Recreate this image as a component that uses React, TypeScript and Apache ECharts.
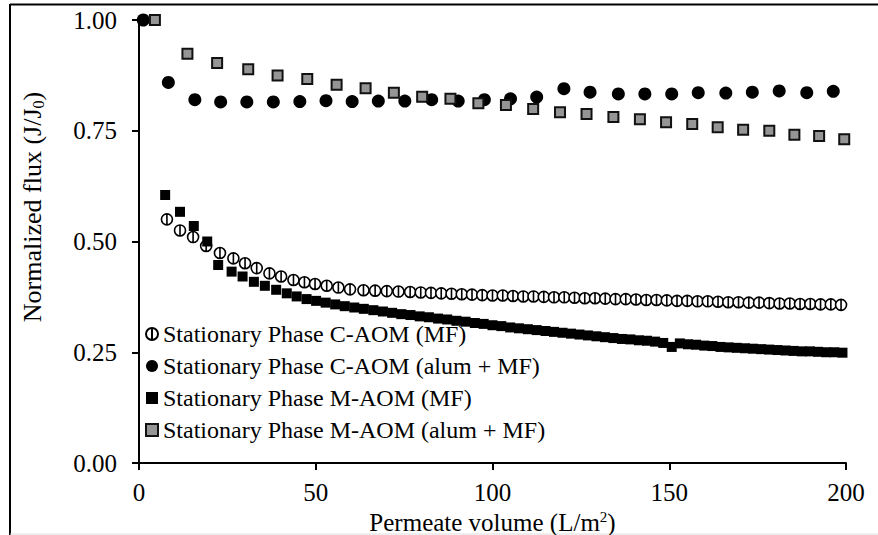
import React, { useEffect, useRef } from "react";
import * as echarts from "echarts";

// Stationary Phase C-AOM (MF) — open circles [permeate volume, J/J0]
const cAomMf: number[][] = [
  [7.9, 0.55], [11.6, 0.525], [15.3, 0.51], [19.0, 0.49], [22.9, 0.474], [26.7, 0.462],
  [30.0, 0.451], [33.3, 0.44], [36.9, 0.428], [40.2, 0.421], [43.7, 0.413], [46.8, 0.408],
  [49.8, 0.404], [53.1, 0.4], [56.4, 0.396], [59.7, 0.392], [63.5, 0.39], [66.8, 0.389],
  [70.1, 0.388], [73.4, 0.387], [76.7, 0.386], [79.7, 0.385], [82.6, 0.384], [85.5, 0.383],
  [88.4, 0.382], [91.3, 0.381], [94.2, 0.38], [97.1, 0.379], [100.0, 0.378], [102.9, 0.378],
  [105.8, 0.377], [108.7, 0.376], [111.6, 0.376], [114.5, 0.375], [117.4, 0.374], [120.3, 0.374],
  [123.2, 0.373], [126.1, 0.372], [129.0, 0.372], [131.9, 0.371], [134.8, 0.37], [137.7, 0.37],
  [140.6, 0.369], [143.5, 0.368], [146.4, 0.368], [149.3, 0.367], [152.2, 0.366], [155.1, 0.366],
  [158.0, 0.365], [160.9, 0.365], [163.8, 0.364], [166.7, 0.363], [169.6, 0.363], [172.5, 0.362],
  [175.4, 0.362], [178.3, 0.361], [181.2, 0.36], [184.1, 0.36], [187.0, 0.359], [189.9, 0.359],
  [192.8, 0.358], [195.7, 0.358], [198.6, 0.357],
];

// Stationary Phase C-AOM (alum + MF) — filled circles
const cAomAlum: number[][] = [
  [1.2, 1.0], [8.3, 0.859], [15.8, 0.82], [23.1, 0.815], [30.5, 0.815], [38.0, 0.815],
  [45.5, 0.816], [52.9, 0.818], [60.3, 0.816], [67.7, 0.817], [75.2, 0.817], [82.8, 0.82],
  [90.3, 0.817], [97.7, 0.82], [105.1, 0.822], [112.5, 0.826], [120.2, 0.845], [127.6, 0.837],
  [135.6, 0.833], [143.1, 0.833], [150.7, 0.833], [158.2, 0.836], [166.0, 0.835], [173.5, 0.837],
  [181.1, 0.84], [188.9, 0.836], [196.4, 0.839],
];

// Stationary Phase M-AOM (MF) — filled squares
const mAomMf: number[][] = [
  [7.4, 0.605], [11.6, 0.567], [15.5, 0.535], [19.3, 0.5], [22.4, 0.447], [26.2, 0.432],
  [29.3, 0.421], [32.5, 0.409], [35.6, 0.4], [38.8, 0.391], [41.8, 0.383], [44.6, 0.376],
  [47.4, 0.37], [50.1, 0.366], [52.8, 0.362], [55.5, 0.358], [58.2, 0.354], [60.9, 0.351],
  [63.6, 0.348], [66.3, 0.345], [69.0, 0.342], [71.6, 0.339], [74.2, 0.336], [76.8, 0.334],
  [79.4, 0.331], [82.0, 0.329], [84.6, 0.326], [87.2, 0.324], [89.8, 0.321], [92.4, 0.319],
  [95.0, 0.316], [97.5, 0.314], [100.0, 0.311], [102.5, 0.309], [105.0, 0.306], [107.5, 0.304],
  [110.0, 0.302], [112.5, 0.3], [115.0, 0.298], [117.4, 0.296], [119.8, 0.294], [122.2, 0.292],
  [124.6, 0.29], [127.0, 0.288], [129.4, 0.286], [131.8, 0.284], [134.2, 0.282], [136.6, 0.28],
  [139.0, 0.279], [141.4, 0.277], [143.7, 0.276], [146.0, 0.274], [148.3, 0.271], [150.7, 0.262],
  [153.0, 0.27], [155.3, 0.268], [157.6, 0.267], [159.9, 0.265], [162.2, 0.264], [164.5, 0.262],
  [166.8, 0.261], [169.1, 0.26], [171.4, 0.259], [173.7, 0.258], [176.0, 0.257], [178.3, 0.256],
  [180.6, 0.255], [182.9, 0.254], [185.2, 0.253], [187.5, 0.252], [189.8, 0.252], [192.1, 0.251],
  [194.4, 0.25], [196.7, 0.25], [199.0, 0.249],
];

// Stationary Phase M-AOM (alum + MF) — grey patterned squares
const mAomAlum: number[][] = [
  [4.5, 1.0], [13.7, 0.924], [22.1, 0.903], [30.9, 0.889], [39.2, 0.875], [47.6, 0.867],
  [55.9, 0.854], [64.1, 0.846], [72.1, 0.836], [80.1, 0.827], [88.1, 0.822], [96.0, 0.812],
  [103.8, 0.808], [111.5, 0.799], [119.1, 0.792], [126.6, 0.788], [134.2, 0.781], [141.7, 0.776],
  [149.1, 0.769], [156.5, 0.765], [163.7, 0.758], [170.9, 0.752], [178.3, 0.75], [185.4, 0.741],
  [192.4, 0.738], [199.5, 0.731],
];

const seriesNames = [
  "Stationary Phase C-AOM (MF)",
  "Stationary Phase C-AOM (alum + MF)",
  "Stationary Phase M-AOM (MF)",
  "Stationary Phase M-AOM (alum + MF)",
];

const FONT = "'Liberation Serif', 'Times New Roman', serif";

export default function App() {
  const ref = useRef<HTMLDivElement>(null);
  useEffect(() => {
    document.body.style.margin = "0";
    const chart = echarts.init(ref.current!, undefined, { renderer: "svg" });
    const openCircle = "path://M6,0A6,6 0 1,1 6,12A6,6 0 1,1 6,0ZM6,0L6,12";
    chart.setOption({
      animation: false,
      backgroundColor: "#ffffff",
      textStyle: { fontFamily: FONT, color: "#000" },
      grid: { left: 139, right: 32, top: 20, bottom: 72, containLabel: false, outerBoundsMode: "none" },
      legend: {
        orient: "vertical",
        left: 140,
        top: 317,
        itemWidth: 12,
        itemHeight: 12,
        itemGap: 8,
        itemTextGap: 6,
        data: seriesNames,
        textStyle: { fontFamily: FONT, fontSize: 24, lineHeight: 24, color: "#000" },
      },
      xAxis: {
        type: "value",
        min: 0,
        max: 200,
        interval: 50,
        splitLine: { show: false },
        axisLine: { show: true, onZero: false, lineStyle: { color: "#000", width: 2 } },
        axisTick: { show: true, inside: false, length: 7, lineStyle: { color: "#000", width: 2 } },
        axisLabel: { fontFamily: FONT, fontSize: 25, color: "#000", margin: 17 },
        name: "Permeate volume (L/m{sup|2})",
        nameLocation: "middle",
        nameGap: 30,
        nameTextStyle: {
          fontFamily: FONT,
          fontSize: 25,
          color: "#000",
          lineHeight: 26,
          rich: {
            sup: { fontFamily: FONT, fontSize: 15, lineHeight: 15, verticalAlign: "top", color: "#000" },
          },
        },
      },
      yAxis: {
        type: "value",
        min: 0,
        max: 1,
        interval: 0.25,
        splitLine: { show: false },
        axisLine: { show: true, onZero: false, lineStyle: { color: "#000", width: 2 } },
        axisTick: { show: true, inside: false, length: 7, lineStyle: { color: "#000", width: 2 } },
        axisLabel: {
          fontFamily: FONT,
          fontSize: 25,
          color: "#000",
          margin: 22,
          formatter: (v: number) => v.toFixed(2),
        },
      },
      graphic: [
        { type: "line", shape: { x1: 10, y1: 4, x2: 10, y2: 535 }, style: { stroke: "#000", lineWidth: 2 } },
        { type: "line", shape: { x1: 10, y1: 4.5, x2: 878, y2: 4.5 }, style: { stroke: "#000", lineWidth: 2 } },
        { type: "line", shape: { x1: 10, y1: 534, x2: 878, y2: 534 }, style: { stroke: "#dddddd", lineWidth: 1 } },
        {
          type: "text",
          x: 32,
          y: 207,
          rotation: Math.PI / 2,
          style: {
            text: "Normalized flux (J/J{sub|0})",
            fontFamily: FONT,
            fontSize: 26,
            lineHeight: 28,
            fill: "#000",
            align: "center",
            verticalAlign: "middle",
            rich: {
              sub: { fontFamily: FONT, fontSize: 16, lineHeight: 16, verticalAlign: "bottom", fill: "#000" },
            },
          },
        },
      ],
      series: [
        {
          name: seriesNames[0],
          type: "scatter",
          clip: false,
          symbol: openCircle,
          symbolSize: 11,
          data: cAomMf,
          itemStyle: { color: "#ffffff", borderColor: "#000", borderWidth: 1.6, opacity: 1 },
        },
        {
          name: seriesNames[1],
          type: "scatter",
          clip: false,
          symbol: "circle",
          symbolSize: 13,
          data: cAomAlum,
          itemStyle: { color: "#000", opacity: 1 },
        },
        {
          name: seriesNames[2],
          type: "scatter",
          clip: false,
          symbol: "rect",
          symbolSize: 10,
          data: mAomMf,
          itemStyle: { color: "#000", opacity: 1 },
        },
        {
          name: seriesNames[3],
          type: "scatter",
          clip: false,
          symbol: "rect",
          symbolSize: 10,
          data: mAomAlum,
          itemStyle: { color: "#959595", borderColor: "#111", borderWidth: 2, opacity: 1 },
        },
      ],
    });
    return () => chart.dispose();
  }, []);
  return <div ref={ref} style={{ width: 878, height: 535 }} />;
}
